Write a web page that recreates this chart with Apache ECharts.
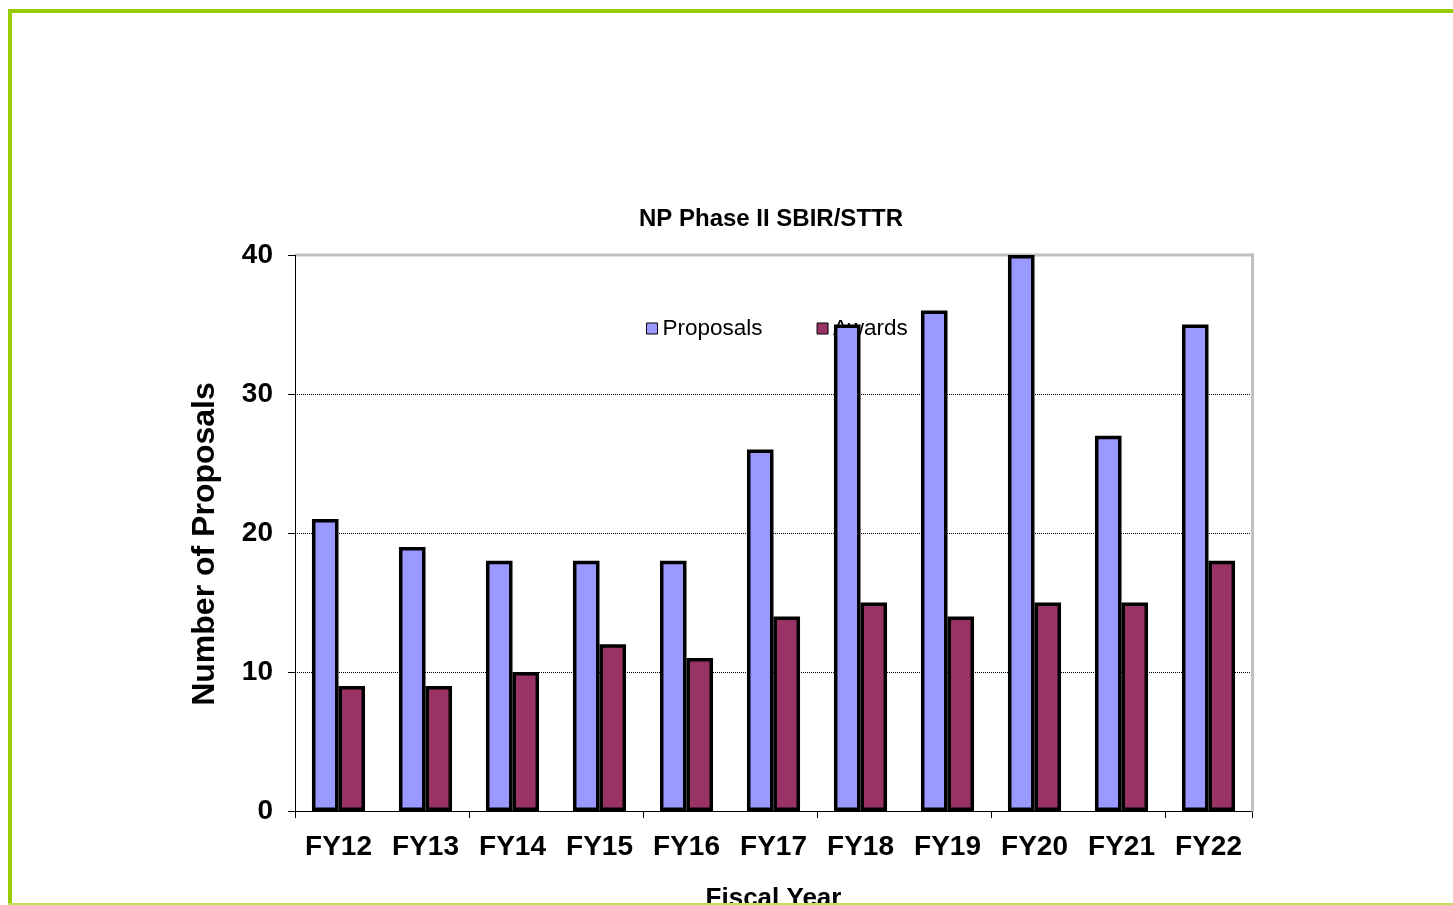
<!DOCTYPE html>
<html>
<head>
<meta charset="utf-8">
<script src="https://cdn.jsdelivr.net/npm/echarts@6/dist/echarts.min.js"></script>
<style>html,body{margin:0;padding:0;background:#fff;overflow:hidden;}#c{width:1453px;height:905px;}</style>
</head>
<body>
<div id="c"></div>
<script>
var categories = ['FY12','FY13','FY14','FY15','FY16','FY17','FY18','FY19','FY20','FY21','FY22'];
var proposals = [21,19,18,18,18,26,35,36,40,27,35];
var awards = [9,9,10,12,11,14,15,14,15,15,18];
var yTicks = [0,10,20,30,40];

var FONT = '"Liberation Sans", Arial, sans-serif';
var chart = echarts.init(document.getElementById('c'));
chart.setOption({
  animation: false,
  backgroundColor: '#fff',
  title: {
    text: 'NP Phase II SBIR/STTR',
    left: 771, top: 207, textAlign: 'center', padding: 0,
    textStyle: {fontFamily: FONT, fontWeight: 'bold', fontSize: 24, color: '#000'}
  },
  legend: {
    z: 0,
    left: 646, top: 317, padding: 0,
    itemWidth: 11, itemHeight: 11, itemGap: 54,
    icon: 'rect',
    textStyle: {fontFamily: FONT, fontSize: 22.5, color: '#000', padding: [0,0,0,0]},
    itemStyle: {borderColor: '#000', borderWidth: 1}
  },
  grid: {
    left: 295, right: 201, top: 255, bottom: 94,
    show: false, containLabel: false, outerBoundsMode: 'none'
  },
  xAxis: {
    type: 'category',
    data: categories,
    name: 'Fiscal Year',
    nameLocation: 'middle',
    nameGap: 75,
    nameTextStyle: {fontFamily: FONT, fontWeight: 'bold', fontSize: 26, color: '#000'},
    axisLine: {lineStyle: {color: '#000', width: 1}},
    axisTick: {show: true, interval: 1, length: 7, lineStyle: {color: '#000'}},
    axisLabel: {interval: 0, margin: 22, fontFamily: FONT, fontWeight: 'bold', fontSize: 28, color: '#000'},
    splitLine: {show: false}
  },
  yAxis: {
    type: 'value',
    min: yTicks[0], max: yTicks[yTicks.length-1], interval: 10,
    name: 'Number of Proposals',
    nameLocation: 'middle',
    nameGap: 74,
    nameTextStyle: {fontFamily: FONT, fontWeight: 'bold', fontSize: 32, color: '#000', padding: [0, 22, 0, 0]},
    axisLine: {show: true, lineStyle: {color: '#000', width: 1}},
    axisTick: {show: true, length: 7, lineStyle: {color: '#000'}},
    axisLabel: {margin: 22, fontFamily: FONT, fontWeight: 'bold', fontSize: 28, color: '#000'},
    splitLine: {show: true, lineStyle: {color: '#000', type: [1,1], width: 1}}
  },
  series: [
    {
      name: 'Proposals', type: 'bar', data: proposals, z: 3,
      barGap: '0%', barCategoryGap: '39%',
      itemStyle: {color: '#9999FF', borderColor: '#000', borderWidth: 3.5}
    },
    {
      name: 'Awards', type: 'bar', data: awards, z: 3,
      itemStyle: {color: '#993366', borderColor: '#000', borderWidth: 3.5}
    }
  ],
  graphic: [
    {type: 'rect', silent: true, z: 1, shape: {x: 296, y: 253.5, width: 958, height: 3}, style: {fill: '#C0C0C0'}},
    {type: 'rect', silent: true, z: 1, shape: {x: 1251, y: 253.5, width: 3, height: 558}, style: {fill: '#C0C0C0'}},
    {type: 'rect', silent: true, z: 1, shape: {x: 8, y: 9, width: 1445, height: 4}, style: {fill: '#99CC00'}},
    {type: 'rect', silent: true, z: 1, shape: {x: 8, y: 9, width: 4, height: 896}, style: {fill: '#99CC00'}},
    {type: 'rect', silent: true, z: 1, shape: {x: 8, y: 903, width: 1445, height: 2}, style: {fill: '#BFE05A'}}
  ]
});
</script>
</body>
</html>
